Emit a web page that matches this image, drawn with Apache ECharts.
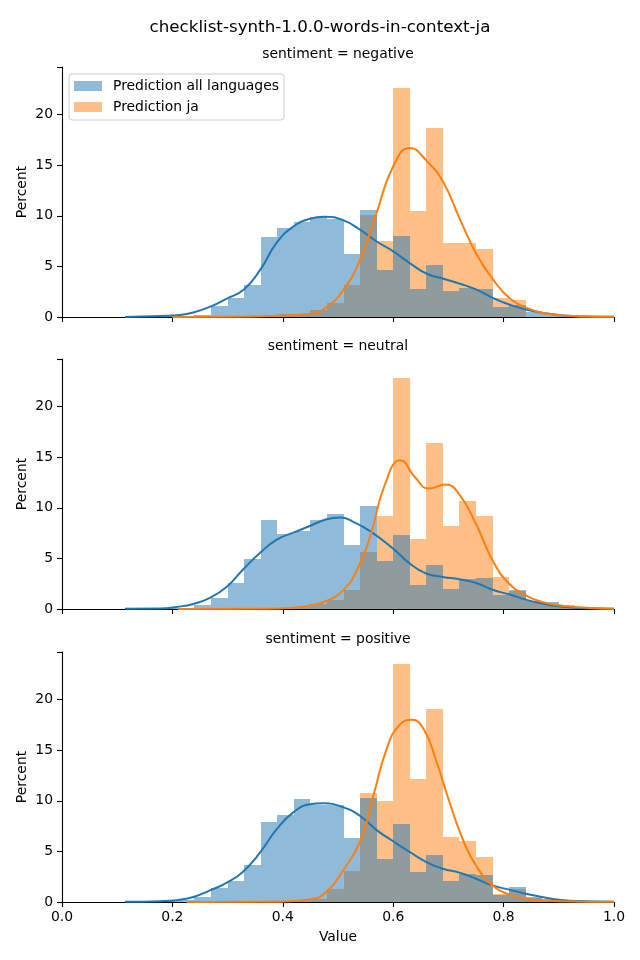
<!DOCTYPE html>
<html>
<head>
<meta charset="utf-8">
<script src="https://cdn.jsdelivr.net/npm/echarts@6/dist/echarts.min.js"></script>
<style>
html,body{margin:0;padding:0;background:#fff;}
#chart{width:640px;height:960px;}
</style>
</head>
<body>
<div id="chart"></div>
<script>
// ---------- data ----------
var mainTitle = 'checklist-synth-1.0.0-words-in-context-ja';
var panelTitles = ['sentiment = negative', 'sentiment = neutral', 'sentiment = positive'];
var seriesNames = ['Prediction all languages', 'Prediction ja'];
var xTicks = [0, 0.2, 0.4, 0.6, 0.8, 1.0];
var yTicks = [0, 5, 10, 15, 20];
var binWidth = 0.03;
var binLeft = [0.12,0.15,0.18,0.21,0.24,0.27,0.30,0.33,0.36,0.39,0.42,0.45,0.48,0.51,0.54,0.57,0.60,0.63,0.66,0.69,0.72,0.75,0.78,0.81,0.84,0.87,0.90,0.93,0.96];

// histogram percents per bin (bins listed in binLeft)
var negAll = [0.05,0,0.05,0.1,0.15,1.1,1.9,3.2,7.9,8.8,9.4,9.9,9.7,6.25,10.6,4.67,8.05,2.8,5.16,2.53,2.9,2.76,1.0,1.2,0.5,0.3,0.15,0.05,0.02];
var negJa  = [0,0,0,0,0,0,0,0,0.05,0.3,0.3,0.65,1.4,3.16,10.1,7.53,22.6,10.5,18.7,7.33,7.33,6.74,1.9,1.65,0,0,0,0,0];
var neuAll = [0.03,0.03,0.05,0.1,0.36,1.05,2.53,4.9,8.75,7.37,7.7,8.75,9.35,6.3,10.14,4.7,7.27,2.34,4.31,1.95,2.93,3.03,1.35,1.9,0.8,0.66,0.2,0.1,0.03];
var neuJa  = [0,0,0,0,0,0,0,0,0,0.1,0.2,0.5,0.9,1.85,5.6,9.15,22.8,6.88,16.45,8.16,10.7,9.15,3.13,1.8,0.75,0.36,0.35,0.1,0.05];
var posAll = [0.08,0.1,0.15,0.2,0.49,1.35,2.1,3.7,7.9,8.6,10.2,9.55,9.55,6.3,10.26,4.24,7.7,2.96,4.64,2.07,2.76,2.66,0.7,1.48,0.5,0.3,0.1,0.05,0.02];
var posJa  = [0,0,0,0,0,0,0,0,0,0,0.2,0.3,1.28,3.06,10.76,9.97,23.5,12.2,19.05,6.42,6.02,4.44,0.8,1.3,0.4,0.2,0.1,0,0];

// KDE curves [x, percent]
var negKdeAll = [[0.114,0],[0.178,0.1],[0.214,0.2],[0.238,0.45],[0.27,1.05],[0.298,1.8],[0.329,2.7],[0.359,4.65],[0.389,7.35],[0.419,8.93],[0.449,9.7],[0.475,9.9],[0.51,9.55],[0.54,8.62],[0.57,7.46],[0.60,6.48],[0.63,5.33],[0.661,4.27],[0.691,3.78],[0.721,3.29],[0.751,2.7],[0.781,1.87],[0.812,1.2],[0.842,0.72],[0.872,0.4],[0.908,0.15],[0.95,0.05],[1.0,0.02]];
var negKdeJa = [[0.2,0],[0.3,0.02],[0.389,0.12],[0.449,0.3],[0.48,1.0],[0.51,2.7],[0.54,5.66],[0.57,10.3],[0.60,14.9],[0.63,16.7],[0.661,15.4],[0.691,13.3],[0.721,9.65],[0.751,6.2],[0.781,3.7],[0.812,1.8],[0.842,0.9],[0.872,0.4],[0.908,0.15],[0.95,0.05],[1.0,0.02]];
var neuKdeAll = [[0.114,0.03],[0.178,0.05],[0.208,0.2],[0.238,0.5],[0.268,1.1],[0.298,2.17],[0.328,3.9],[0.359,5.56],[0.389,6.85],[0.419,7.54],[0.449,8.2],[0.479,8.86],[0.504,9.05],[0.528,8.6],[0.558,7.7],[0.60,5.96],[0.63,4.5],[0.66,3.5],[0.69,3.17],[0.72,2.93],[0.75,2.57],[0.78,1.9],[0.81,1.45],[0.84,0.93],[0.87,0.53],[0.90,0.26],[0.93,0.13],[1.0,0.03]];
var neuKdeJa = [[0.21,0],[0.359,0.03],[0.419,0.13],[0.449,0.36],[0.479,0.79],[0.509,1.84],[0.534,3.8],[0.558,7.1],[0.585,12.3],[0.613,14.7],[0.64,13.0],[0.664,11.9],[0.695,12.3],[0.72,11.3],[0.75,8.4],[0.78,4.8],[0.81,2.5],[0.84,1.35],[0.87,0.7],[0.90,0.36],[0.93,0.2],[0.96,0.1],[1.0,0.03]];
var posKdeAll = [[0.114,0.03],[0.178,0.08],[0.208,0.18],[0.238,0.5],[0.268,1.15],[0.298,1.9],[0.328,3.0],[0.359,4.9],[0.389,7.2],[0.419,8.85],[0.449,9.65],[0.473,9.75],[0.51,9.35],[0.54,8.5],[0.57,7.1],[0.60,6.0],[0.63,4.94],[0.66,3.95],[0.69,3.29],[0.72,2.9],[0.75,2.3],[0.78,1.64],[0.81,1.22],[0.84,0.82],[0.87,0.49],[0.90,0.22],[0.93,0.1],[1.0,0.03]];
var posKdeJa = [[0.226,0],[0.389,0.03],[0.449,0.25],[0.479,1.0],[0.509,3.1],[0.54,6.0],[0.564,10.5],[0.588,15.1],[0.61,17.4],[0.634,18.0],[0.656,17.0],[0.677,14.1],[0.70,10.2],[0.726,6.2],[0.75,3.6],[0.78,1.64],[0.81,0.75],[0.84,0.33],[0.87,0.16],[0.90,0.08],[1.0,0.02]];

// ---------- chart ----------
var FONT = 'DejaVu Sans';
var BLUE = '#1f77b4', ORANGE = '#ff7f0e';
var BLUE_A = 'rgba(31,119,180,0.5)', ORANGE_A = 'rgba(255,127,14,0.5)';
var panels = [
  {all: negAll, ja: negJa, kAll: negKdeAll, kJa: negKdeJa},
  {all: neuAll, ja: neuJa, kAll: neuKdeAll, kJa: neuKdeJa},
  {all: posAll, ja: posJa, kAll: posKdeAll, kJa: posKdeJa}
];
var gridTops = [67, 359, 652];
var gridH = 250, gridLeft = 62, gridW = 552;

function histData(vals) {
  return binLeft.map(function (b, i) { return [b, b + binWidth, vals[i]]; });
}
function makeRender(fill) {
  return function (params, api) {
    var p0 = api.coord([api.value(0), api.value(2)]);
    var p1 = api.coord([api.value(1), 0]);
    var x0 = Math.round(p0[0]), x1 = Math.round(p1[0]);
    var y0 = Math.round(p0[1]), y1 = Math.round(p1[1]);
    return {type: 'rect', shape: {x: x0, y: y0, width: x1 - x0, height: y1 - y0}, style: {fill: fill, stroke: null}};
  };
}

var grids = [], xAxes = [], yAxes = [], series = [], graphics = [];
graphics.push({type: 'text', x: 320, y: 28, style: {text: mainTitle, font: '16.7px "' + FONT + '"', fill: '#000', align: 'center', verticalAlign: 'middle'}});
panels.forEach(function (p, k) {
  grids.push({left: gridLeft, top: gridTops[k], width: gridW, height: gridH, containLabel: false});
  graphics.push({type: 'text', x: gridLeft + gridW / 2, y: gridTops[k] - 12.5, style: {text: panelTitles[k], font: '13.9px "' + FONT + '"', fill: '#000', align: 'center', verticalAlign: 'middle'}});
  var last = (k === panels.length - 1);
  xAxes.push({
    type: 'value', gridIndex: k, min: xTicks[0], max: xTicks[xTicks.length - 1], interval: 0.2,
    axisLine: {show: true, onZero: false, lineStyle: {color: '#000', width: 1.1}},
    axisTick: {show: true, inside: false, length: 5, lineStyle: {color: '#000', width: 1.1}},
    axisLabel: {show: last, margin: 8, color: '#000', fontFamily: FONT, fontSize: 13.9, formatter: function (v) { return v.toFixed(1); }},
    splitLine: {show: false},
    name: last ? 'Value' : '', nameLocation: 'middle', nameGap: 28,
    nameTextStyle: {color: '#000', fontFamily: FONT, fontSize: 13.9}
  });
  yAxes.push({
    type: 'value', gridIndex: k, min: 0, max: 24.7, interval: 5,
    axisLine: {show: true, lineStyle: {color: '#000', width: 1.1}},
    axisTick: {show: true, inside: false, length: 5, lineStyle: {color: '#000', width: 1.1}},
    axisLabel: {margin: 9, color: '#000', fontFamily: FONT, fontSize: 13.9, customValues: yTicks},
    splitLine: {show: false},
    name: 'Percent', nameLocation: 'middle', nameGap: 33, nameMoveOverlap: false,
    nameTextStyle: {color: '#000', fontFamily: FONT, fontSize: 13.9}
  });
  series.push({
    type: 'custom', name: seriesNames[1], xAxisIndex: k, yAxisIndex: k,
    renderItem: makeRender(ORANGE_A), itemStyle: {color: ORANGE_A},
    encode: {x: [0, 1], y: 2}, data: histData(p.ja), z: 1, silent: true
  });
  series.push({
    type: 'custom', name: seriesNames[0], xAxisIndex: k, yAxisIndex: k,
    renderItem: makeRender(BLUE_A), itemStyle: {color: BLUE_A},
    encode: {x: [0, 1], y: 2}, data: histData(p.all), z: 2, silent: true
  });
  series.push({
    type: 'line', name: 'kde all ' + k, xAxisIndex: k, yAxisIndex: k, data: p.kAll,
    smooth: 0.5, showSymbol: false, symbol: 'none',
    lineStyle: {color: BLUE, width: 2}, itemStyle: {color: BLUE}, z: 3, silent: true
  });
  series.push({
    type: 'line', name: 'kde ja ' + k, xAxisIndex: k, yAxisIndex: k, data: p.kJa,
    smooth: 0.5, showSymbol: false, symbol: 'none',
    lineStyle: {color: ORANGE, width: 2}, itemStyle: {color: ORANGE}, z: 3, silent: true
  });
});

var chart = echarts.init(document.getElementById('chart'), null, {renderer: 'canvas'});
chart.setOption({
  animation: false,
  backgroundColor: '#fff',
  grid: grids,
  xAxis: xAxes,
  yAxis: yAxes,
  legend: {
    data: seriesNames, orient: 'vertical', left: 69, top: 74,
    icon: 'rect', itemWidth: 28, itemHeight: 10, itemGap: 5,
    padding: [4, 5, 5, 5],
    borderColor: '#cccccc', borderWidth: 1, borderRadius: 3,
    backgroundColor: 'rgba(255,255,255,0.8)',
    textStyle: {color: '#000', fontFamily: FONT, fontSize: 13.9, lineHeight: 16, padding: [0, 0, 0, 6]},
    selectedMode: false
  },
  graphic: graphics,
  series: series
});
</script>
</body>
</html>
